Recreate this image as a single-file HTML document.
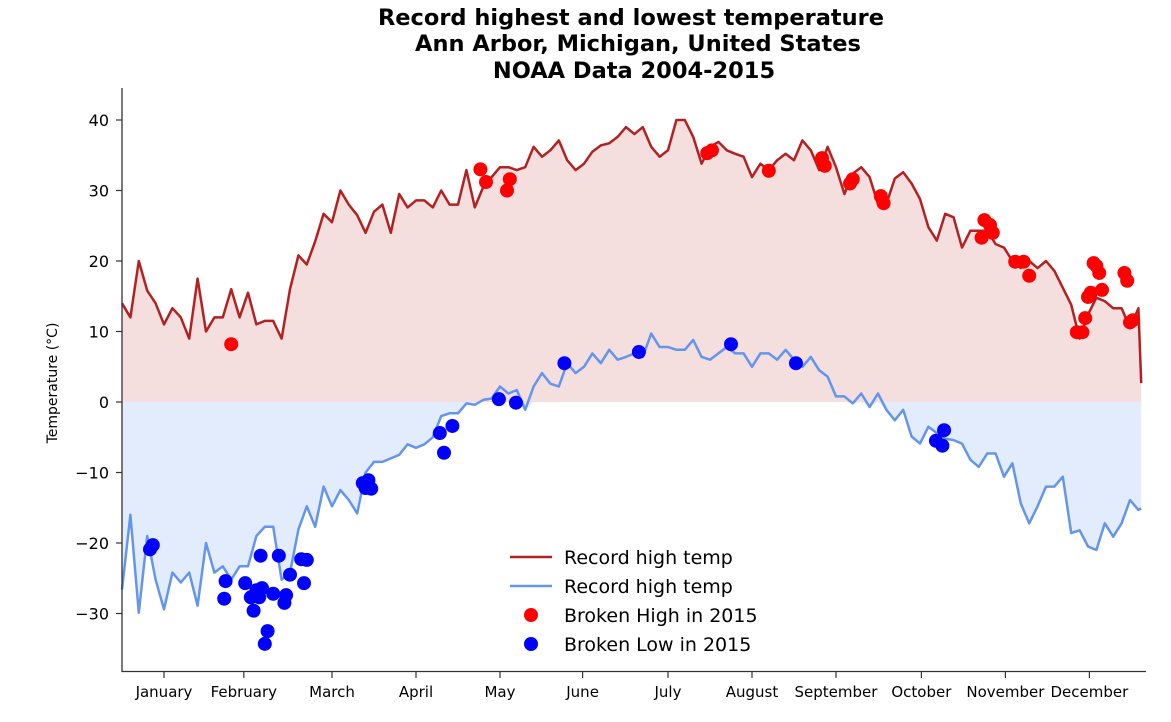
<!DOCTYPE html>
<html><head><meta charset="utf-8"><style>
body{margin:0;background:#fff;}
svg text{font-family:"DejaVu Sans","Liberation Sans",sans-serif;}
</style></head><body>
<svg id="chart" width="1171" height="717" xmlns="http://www.w3.org/2000/svg">
<g font-weight="bold" font-size="22.5" text-anchor="middle" fill="#000">
<text x="631" y="25">Record highest and lowest temperature</text>
<text x="638" y="51">Ann Arbor, Michigan, United States</text>
<text x="634" y="78">NOAA Data 2004-2015</text>
</g>
<g id="fills"></g><g id="lines"></g><g id="dots"></g><g id="axes"></g>
<text transform="translate(57,383) rotate(-90)" text-anchor="middle" font-size="14">Temperature (°C)</text>
<g font-size="19">
<g><line x1="510" y1="557" x2="552" y2="557" stroke="#b22222" stroke-width="2.5"/><text x="564" y="564">Record high temp</text></g>
<g><line x1="510" y1="586" x2="552" y2="586" stroke="#6495ed" stroke-width="2.5"/><text x="564" y="593">Record high temp</text></g>
<g><circle cx="531" cy="615" r="7" fill="#ff0000"/><text x="564" y="622">Broken High in 2015</text></g>
<g><circle cx="531" cy="644" r="7" fill="#0000ff"/><text x="564" y="651">Broken Low in 2015</text></g>
</g>
</svg>
<script>
// sampled every 3 days (last = day 364)
const highTemps=[14,12,20,15.8,14,11,13.3,12,9,17.5,10,12,12,16,12,15.5,11,11.5,11.5,9,16,20.8,19.5,22.8,26.7,25.5,30,28,26.5,24,27,28,24,29.5,27.6,28.6,28.6,27.6,30,28,28,32.9,27.6,30.5,31.9,33.3,33.3,32.9,33.3,36.2,34.8,35.7,37.1,34.3,32.9,33.8,35.5,36.4,36.7,37.6,39,38,39,36.2,34.8,35.7,40,40,37.6,33.8,36.2,36.9,35.7,35.2,34.8,31.9,33.8,32.9,34.3,35.2,34.3,37.1,35.7,32.9,36.2,33.3,29.5,32.4,33.3,31.9,28.1,28.1,31.7,32.6,31,28.8,24.8,22.9,26.7,26.2,21.9,24.3,24.3,24.3,22.4,21.9,20,19,20,19,20,18.6,16.2,13.8,9,12.4,14.8,14.3,13.3,13.3,10.5,13.3,2.7];
const lowTemps=[-26.6,-16,-29.9,-19,-25.2,-29.4,-24.2,-25.6,-24.2,-28.9,-20,-24.2,-23.3,-25.2,-23.3,-23.3,-19,-17.7,-17.7,-25.2,-24.2,-18.1,-14.8,-17.7,-12,-14.8,-12.5,-13.9,-15.8,-10,-8.5,-8.5,-8,-7.5,-6,-6.5,-6,-5,-2,-1.6,-1.6,-0.2,-0.4,0.3,0.5,2.2,1.2,1.7,-1.1,2.2,4.1,2.6,2.2,5.5,4.1,5,6.9,5.5,7.4,6,6.4,6.9,6.4,9.7,7.8,7.8,7.4,7.4,8.8,6.4,6,6.9,7.8,6.9,6.9,5,6.9,6.9,6,7.4,6,5,6.4,4.5,3.6,0.8,0.8,-0.2,1.2,-0.7,1.2,-1.1,-2.6,-1.1,-4.9,-5.9,-3.5,-4.4,-5.2,-5.4,-5.9,-8.2,-9.2,-7.3,-7.3,-10.6,-8.7,-14.4,-17.2,-14.8,-12,-12,-10.6,-18.6,-18.2,-20.5,-21,-17.2,-19.1,-17.2,-13.9,-15.3,-15.1];
const brokenHighDays=[39,128,130,137.5,138.5,209,210.7,231,250,251,260,261,271,272,307,308,310,311,319,322,324,341,343,344,345,346,347,348,349,350,358,359,360,361];
const brokenHighTemps=[8.2,33,31.2,30,31.6,35.3,35.7,32.8,34.6,33.5,31,31.6,29.2,28.2,23.3,25.8,25.1,24,19.9,19.9,17.9,9.9,9.9,11.9,14.9,15.5,19.7,19.3,18.3,15.9,18.3,17.2,11.3,11.6];
const brokenLowDays=[10,11,36.5,37,44,46,47,48,49,49.5,50,51,52,54,56,58,58.6,60,64,65,66,86,87,88,89,113.5,115,118,134.6,140.7,158,184.6,217.5,240.7,290.7,293,293.6];
const brokenLowTemps=[-20.9,-20.3,-27.9,-25.4,-25.7,-27.7,-29.6,-26.7,-27.7,-21.8,-26.4,-34.3,-32.5,-27.2,-21.8,-28.5,-27.4,-24.5,-22.3,-25.7,-22.4,-11.5,-12.2,-11.1,-12.3,-4.4,-7.2,-3.4,0.4,-0.1,5.5,7.1,8.2,5.5,-5.5,-6.2,-4.0];
const monthLabels=["January","February","March","April","May","June","July","August","September","October","November","December"];
const monthTickDays=[15,43.5,75,105,135,164.5,195,225,255,285.5,315.5,345.5];
const yTicks=[40,30,20,10,0,-10,-20,-30];

const NS="http://www.w3.org/2000/svg";
const X0=122,PXD=2.8,Y0=402,PXT=7.05;
function xs(d){return X0+d*PXD;}
function ys(t){return Y0-t*PXT;}
function dayAt(i,n){return i===n-1?364:i*3;}
function mk(tag,attrs,parent){const e=document.createElementNS(NS,tag);for(const k in attrs)e.setAttribute(k,attrs[k]);parent.appendChild(e);return e;}
const fills=document.getElementById('fills'),lines=document.getElementById('lines'),dots=document.getElementById('dots'),axes=document.getElementById('axes');

function series(arr){return arr.map((v,i)=>[xs(dayAt(i,arr.length)),ys(v)]);}
const hp=series(highTemps),lp=series(lowTemps);
const lpClip=lowTemps.map((v,i)=>[xs(dayAt(i,lowTemps.length)),ys(Math.min(v,0))]);
function areaPath(pts){let d='M'+pts[0][0]+','+ys(0);pts.forEach(p=>d+=' L'+p[0].toFixed(1)+','+p[1].toFixed(1));d+=' L'+pts[pts.length-1][0]+','+ys(0)+' Z';return d;}
const hf=mk('path',{d:areaPath(hp),fill:'#b22222','fill-opacity':'0.15'},fills);


const lf=mk('path',{d:areaPath(lpClip),fill:'#6495ed','fill-opacity':'0.18'},fills);


function linePath(pts){return pts.map((p,i)=>(i?'L':'M')+p[0].toFixed(1)+','+p[1].toFixed(1)).join(' ');}
const hl=mk('path',{d:linePath(hp),fill:'none',stroke:'#b22222','stroke-width':2.5,'stroke-linejoin':'round'},lines);


const ll=mk('path',{d:linePath(lp),fill:'none',stroke:'#6495ed','stroke-width':2.5,'stroke-linejoin':'round'},lines);


brokenHighDays.forEach((d,i)=>{const c=mk('circle',{cx:xs(d),cy:ys(brokenHighTemps[i]),r:7,fill:'#ff0000'},dots);

});
brokenLowDays.forEach((d,i)=>{const c=mk('circle',{cx:xs(d),cy:ys(brokenLowTemps[i]),r:7,fill:'#0000ff'},dots);

});
// axes
const ya=mk('line',{x1:122,y1:88,x2:122,y2:672,stroke:'#333','stroke-width':1.3},axes);


const xa=mk('line',{x1:121.5,y1:671.5,x2:1146,y2:671.5,stroke:'#333','stroke-width':1.3},axes);


yTicks.forEach(t=>{const y=ys(t);mk('line',{x1:116,y1:y,x2:122,y2:y,stroke:'#333','stroke-width':1.2},axes);
const tx=mk('text',{x:109,y:y+6,'text-anchor':'end','font-size':16},axes);tx.textContent=t<0?'\u2212'+(-t):t;

});
monthLabels.forEach((m,i)=>{const x=xs(monthTickDays[i]);mk('line',{x1:x,y1:672,x2:x,y2:678,stroke:'#333','stroke-width':1.2},axes);
const tx=mk('text',{x:x,y:697,'text-anchor':'middle','font-size':15},axes);tx.textContent=m;

});
</script>
</body></html>
